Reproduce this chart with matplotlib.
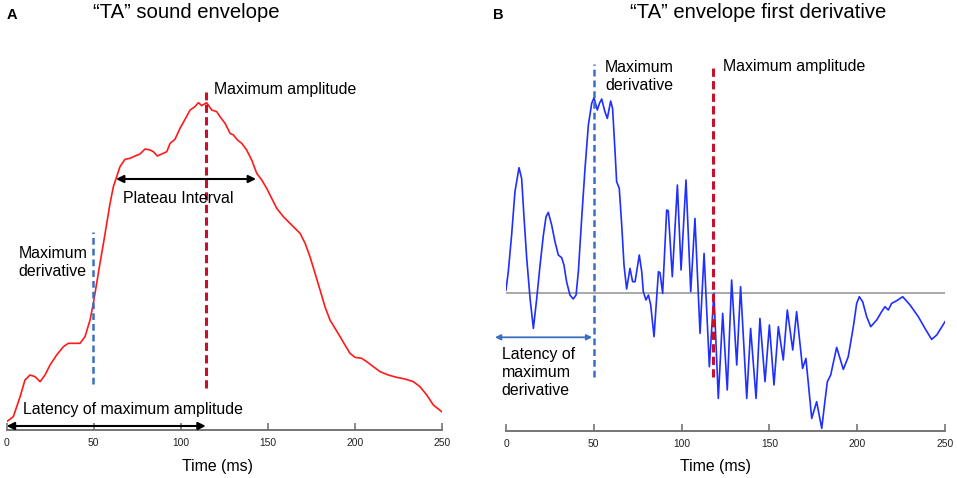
import matplotlib
matplotlib.use("Agg")
import matplotlib.pyplot as plt

plt.rcParams['font.family'] = ['Liberation Sans', 'DejaVu Sans']

# ---- Panel A: sound envelope (arbitrary units) ----
env_t = [0, 3.8, 7.7, 10.5, 13.4, 16.3, 19.2, 22.0, 24.9, 28.7, 32.6, 35.4, 38.3, 42.1,
         45.0, 47.9, 49.8, 51.7, 53.6, 55.6, 57.5, 59.4, 61.3, 63.2, 65.1, 68.0, 70.9,
         73.8, 76.6, 79.5, 82.4, 84.3, 86.6, 89.1, 92.0, 93.9, 96.7, 99.6, 102.5, 105.4,
         108.2, 110.2, 112.1, 114.9, 117.8, 120.7, 122.6, 125.5, 128.4, 130.3, 132.6,
         135.1, 137.9, 140.8, 143.7, 146.6, 149.4, 152.3, 155.2, 159.0, 162.8, 165.7,
         168.6, 171.5, 174.3, 177.2, 180.1, 182.9, 185.8, 188.7, 191.6, 194.4, 197.3,
         200.2, 204.0, 206.9, 210.7, 214.6, 219.3, 224.1, 228.9, 233.7, 237.5, 241.4,
         245.2, 250.0]
env_a = [2.5, 4.0, 10.0, 15.0, 16.5, 16.0, 14.5, 16.5, 19.5, 22.5, 25.0, 26.0, 26.0, 26.0,
         28.0, 33.0, 38.0, 44.0, 50.0, 56.0, 62.0, 68.0, 73.0, 76.0, 79.0, 81.2, 81.5,
         82.2, 82.8, 84.3, 84.0, 83.5, 82.2, 82.8, 83.5, 86.0, 87.2, 90.5, 93.2, 96.0,
         97.0, 98.2, 97.3, 98.2, 96.0, 95.5, 94.0, 92.0, 89.0, 88.5, 87.0,
         86.0, 84.0, 81.0, 77.0, 75.0, 72.5, 69.5, 66.5, 64.0, 62.0, 60.5,
         59.0, 56.0, 52.0, 47.0, 42.0, 37.0, 33.0, 30.5, 28.0, 25.5, 23.0,
         21.8, 21.5, 20.5, 19.0, 17.5, 16.5, 15.8, 15.3, 14.5, 13.0, 10.5,
         7.5, 5.5]

# ---- Panel B: envelope first derivative (arbitrary units) ----
der_t = [0, 1.3, 3.2, 5.1, 7.4, 8.9, 10.3, 11.8, 13.7, 15.6, 17.5, 19.4, 21.3, 22.8, 24.1,
         26.0, 27.9, 29.8, 31.7, 33.0, 34.5, 36.4, 38.3, 39.9, 41.2, 43.1, 45.0, 46.9,
         48.8, 50.1, 52.0, 53.2, 54.5, 56.2, 57.7, 59.6, 60.7, 62.1, 63.0, 64.5, 65.9,
         67.2, 68.7, 70.6, 72.1, 73.5, 75.9, 77.3, 78.2, 79.7, 81.1, 82.4, 84.3, 86.8,
         87.7, 89.2, 91.5, 92.4, 94.7, 97.6, 99.7, 102.5, 105.2, 107.6, 110.5, 112.8,
         115.8, 118.4, 120.9, 123.4, 126.0, 128.5, 131.4, 133.6, 137.1, 139.3, 142.4,
         144.6, 147.5, 150.0, 152.6, 155.1, 157.9, 160.2, 163.3, 165.5, 168.9, 170.8,
         174.1, 176.9, 179.8, 181.7, 183.0, 184.9, 188.3, 192.1, 194.9, 197.8, 199.7,
         201.2, 203.1, 205.4, 207.7, 211.1, 213.9, 215.8, 217.7, 219.6, 222.5, 225.9,
         230.1, 234.8, 238.6, 242.4, 245.3, 250.0]
der_v = [0.27, 2.1, 5.77, 10.1, 12.5, 11.43, 7.43, 3.43, -0.57, -3.57, -0.57, 2.77, 5.77,
         7.6, 8.03, 6.77, 5.1, 3.77, 3.5, 2.77, 1.1, -0.23, -0.63, -0.23, 2.1, 7.43, 12.43,
         16.77, 18.93, 19.5, 18.27, 18.93, 19.37, 18.17, 17.43, 19.17, 18.43, 14.1, 11.1,
         10.43, 6.77, 2.77, 0.37, 2.43, 1.1, 1.1, 3.77, 2.1, 0.1, -0.73, -0.23, -1.23,
         -4.4, 2.1, 2.0, -0.07, 8.27, 8.2, 1.6, 10.77, 2.27, 11.27, 0.1, 7.43, -4.07,
         3.93, -7.4, -0.07, -10.57, -2.07, -9.73, 1.27, -7.23, 0.6, -10.57, -3.57, -10.57,
         -2.57, -8.9, -3.23, -9.23, -3.4, -6.73, -1.73, -5.73, -1.9, -7.57, -6.57,
         -12.57, -10.9, -13.57, -10.73, -8.9, -8.23, -5.47, -7.67, -6.4, -3.4, -1.07,
         -0.4, -0.9, -2.4, -3.4, -2.73, -1.9, -1.4, -1.73, -1.07, -0.8, -0.4,
         -1.23, -2.4, -3.57, -4.67, -4.23, -2.9]

xticks = [0, 50, 100, 150, 200, 250]

# event latencies (ms)
A_max_deriv = 49.5
A_max_amp = 114.4
A_plateau = (62.8, 143.3)
B_max_deriv = 50.0
B_max_amp = 117.7

W, H = 957, 478
fig = plt.figure(figsize=(W / 100, H / 100), dpi=100)

RED = '#ff1a1a'
DRED = '#c8102e'
DBLUE = '#3a6fc4'
BLUE = '#1f2fff'
AXC = '#6a6a6a'

def setup(ax, ylim):
    ax.set_xlim(0, 250)
    ax.set_ylim(*ylim)
    for s in ['top', 'right', 'left']:
        ax.spines[s].set_visible(False)
    ax.spines['bottom'].set_color(AXC)
    ax.spines['bottom'].set_linewidth(1.3)
    ax.set_yticks([])
    ax.set_xticks(xticks)
    ax.set_xticklabels([str(x) for x in xticks])
    ax.tick_params(axis='x', direction='in', length=5, width=1.1, color=AXC,
                   labelsize=7.4, pad=6, labelcolor='#222222')
    ax.patch.set_alpha(0)

# ---------- Panel A ----------
axA = fig.add_axes([6.7 / W, 1 - 430 / H, 435 / W, 380 / H])
setup(axA, (0, 114))
axA.plot(env_t, env_a, color=RED, lw=1.2, zorder=3)
axA.plot([A_max_amp, A_max_amp], [12.5, 101.5], color=DRED, lw=2.2,
         dashes=(2.7, 1.4), clip_on=False, zorder=4)
axA.plot([A_max_deriv, A_max_deriv], [13.8, 59.5], color=DBLUE, lw=1.8,
         dashes=(2.7, 1.6), clip_on=False, zorder=4)
axA.annotate('', xy=(A_plateau[0], 75.3), xytext=(A_plateau[1], 75.3),
             arrowprops=dict(arrowstyle='<|-|>', color='black', lw=1.5,
                             mutation_scale=11, shrinkA=0, shrinkB=0), zorder=5)
axA.annotate('', xy=(0, 1.2), xytext=(A_max_amp, 1.2),
             arrowprops=dict(arrowstyle='<|-|>', color='black', lw=1.5,
                             mutation_scale=11, shrinkA=0, shrinkB=0),
             annotation_clip=False, zorder=5)

fs = 11.4
fig.text(123 / W, 1 - 198.5 / H, 'Plateau Interval', fontsize=fs, ha='left', va='center')
fig.text(214.3 / W, 1 - 89.3 / H, 'Maximum amplitude', fontsize=fs, ha='left', va='center')
fig.text(18.3 / W, 1 - 263 / H, 'Maximum\nderivative', fontsize=fs, ha='left', va='center',
         linespacing=1.25)
fig.text(23.3 / W, 1 - 409.3 / H, 'Latency of maximum amplitude', fontsize=fs,
         ha='left', va='center')
fig.text(217.5 / W, 1 - 466.7 / H, 'Time (ms)', fontsize=fs, ha='center', va='center')
fig.text(7 / W, 1 - 15 / H, 'A', fontsize=10.5, fontweight='bold', ha='left', va='center')
fig.text(185.8 / W, 1 - 12.7 / H, '\u201cTA\u201d sound envelope', fontsize=14.6,
         ha='center', va='center')

# ---------- Panel B ----------
axB = fig.add_axes([506 / W, 1 - 430.7 / H, 439 / W, 380.7 / H])
setup(axB, (-13.8, 24.27))
axB.plot([0, 250], [0, 0], color='#9a9a9a', lw=1.2, zorder=2)
axB.plot(der_t, der_v, color=BLUE, lw=1.2, zorder=3)
axB.plot([B_max_deriv, B_max_deriv], [-8.4, 22.87], color=DBLUE, lw=1.8,
         dashes=(2.7, 1.6), clip_on=False, zorder=4)
axB.plot([B_max_amp, B_max_amp], [-8.4, 22.87], color=DRED, lw=2.2,
         dashes=(2.7, 1.4), clip_on=False, zorder=4)
axB.annotate('', xy=(-6.3, -4.46), xytext=(B_max_deriv - 0.9, -4.46),
             arrowprops=dict(arrowstyle='<|-|>', color=DBLUE, lw=1.3,
                             mutation_scale=8, shrinkA=0, shrinkB=0),
             annotation_clip=False, zorder=5)

fig.text(605 / W, 1 - 76.3 / H, 'Maximum\nderivative', fontsize=fs, ha='left', va='center',
         linespacing=1.25)
fig.text(723.3 / W, 1 - 66.7 / H, 'Maximum amplitude', fontsize=fs, ha='left', va='center')
fig.text(501.7 / W, 1 - 372.2 / H, 'Latency of\nmaximum\nderivative', fontsize=fs,
         ha='left', va='center', linespacing=1.25)
fig.text(715.3 / W, 1 - 466.7 / H, 'Time (ms)', fontsize=fs, ha='center', va='center')
fig.text(493 / W, 1 - 15 / H, 'B', fontsize=10.5, fontweight='bold', ha='left', va='center')
fig.text(757.8 / W, 1 - 12.7 / H, '\u201cTA\u201d envelope first derivative', fontsize=14.6,
         ha='center', va='center')

fig.savefig('out.png', dpi=100)
